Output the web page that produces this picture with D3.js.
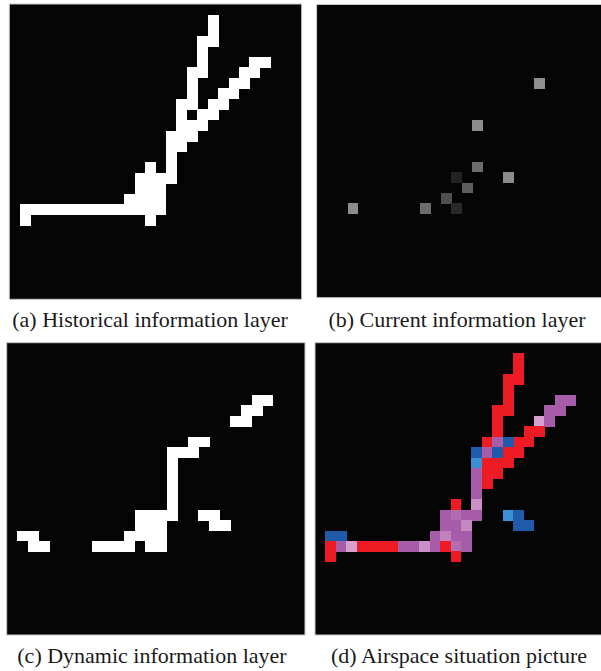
<!DOCTYPE html>
<html><head><meta charset="utf-8">
<script src="https://cdn.jsdelivr.net/npm/d3@7"></script>
<style>html,body{margin:0;padding:0;background:#fff}</style>
</head><body>
<svg id="chart" width="601" height="671"></svg>
<script>
// ---- data ----
const gridSize = 28;
// Historical layer: [row, [columns]]
const historicalRows = [
  [1, [19]], [2, [19]], [3, [18, 19]], [4, [18]], [5, [18, 23, 24]],
  [6, [17, 18, 22, 23]], [7, [17, 21, 22]], [8, [17, 20, 21]],
  [9, [16, 17, 19, 20]], [10, [16, 18, 19]], [11, [16, 17, 18]],
  [12, [15, 16, 17]], [13, [15, 16]], [14, [15]], [15, [13, 15]],
  [16, [12, 13, 14, 15]], [17, [12, 13, 14]], [18, [11, 12, 13, 14]],
  [19, [1, 2, 3, 4, 5, 6, 7, 8, 9, 10, 11, 12, 13, 14]], [20, [1, 13]]
];
// Dynamic layer: [row, [columns]]
const dynamicRows = [
  [5, [23, 24]], [6, [22, 23]], [7, [21, 22]], [9, [17, 18]],
  [10, [15, 16, 17]], [11, [15]], [12, [15]], [13, [15]], [14, [15]],
  [15, [15]], [16, [12, 13, 14, 15, 18, 19]], [17, [12, 13, 14, 19, 20]],
  [18, [1, 2, 11, 12, 13, 14]], [19, [2, 3, 8, 9, 10, 11, 13, 14]]
];
// Current layer: column, row, intensity
const currentCols      = [21, 15, 15, 13, 18, 14, 12, 3, 10, 13];
const currentRowsIdx   = [7, 11, 15, 16, 16, 17, 18, 19, 19, 19];
const currentIntensity = [0.55, 0.54, 0.41, 0.12, 0.54, 0.35, 0.29, 0.54, 0.41, 0.14];
const panelLabels = [
  "(a) Historical information layer",
  "(b) Current information layer",
  "(c) Dynamic information layer",
  "(d) Airspace situation picture"
];

// ---- helpers ----
const expand = rows => rows.flatMap(([r, cols]) => cols.map(c => ({col: c, row: r})));
const histCells = expand(historicalRows);
const dynCells = expand(dynamicRows);
const curCells = currentCols.map((c, i) => ({col: c, row: currentRowsIdx[i], v: currentIntensity[i]}));
const key = d => d.col + "," + d.row;
const histSet = new Set(histCells.map(key));
const dynSet = new Set(dynCells.map(key));
const curMap = new Map(curCells.map(d => [key(d), d.v]));

const allKeys = Array.from(new Set([...histSet, ...dynSet]));
const fusedCells = allKeys.map(k => {
  const [c, r] = k.split(",").map(Number);
  const h = histSet.has(k), dy = dynSet.has(k);
  return {col: c, row: r, type: h && dy ? "both" : (h ? "hist" : "dyn"), v: curMap.get(k) || 0};
});

const baseColor = {hist: "#ed1c24", both: "#a65ca8", dyn: "#1f5aab"};
const lightColor = {hist: "#f58a8e", both: "#d7a0cf", dyn: "#3b8fd4"};
const fusedColor = d => d3.interpolateRgb(baseColor[d.type], lightColor[d.type])(Math.min(1, d.v / 0.54));

// ---- layout ----
const panels = [
  {x: 9.3,   y: 4,     w: 292.4, h: 295.3},
  {x: 316.6, y: 4.5,   w: 290.4, h: 293.2},
  {x: 6.7,   y: 342.7, w: 298.3, h: 292.3},
  {x: 315,   y: 342.7, w: 292.0, h: 292.3}
];
const labelPos = [
  {x: 150, y: 327}, {x: 457, y: 327},
  {x: 152, y: 663}, {x: 459, y: 663}
];

const svg = d3.select("#chart");
svg.append("rect").attr("width", 601).attr("height", 671).attr("fill", "#fff");

function drawPanel(p, cells, colorFn) {
  const xs = d3.scaleBand().domain(d3.range(gridSize)).range([p.x, p.x + p.w]);
  const ys = d3.scaleBand().domain(d3.range(gridSize)).range([p.y, p.y + p.h]);
  const g = svg.append("g");
  g.append("rect").attr("x", p.x).attr("y", p.y).attr("width", p.w).attr("height", p.h)
    .attr("fill", "#050505").attr("stroke", "#c8c8c8").attr("stroke-width", 1);
  g.selectAll("rect.cell").data(cells).join("rect").attr("class", "cell")
    .attr("x", d => xs(d.col)).attr("y", d => ys(d.row))
    .attr("width", xs.bandwidth() + 0.4).attr("height", ys.bandwidth() + 0.4)
    .attr("fill", colorFn)
    .attr("shape-rendering", "crispEdges");
}

drawPanel(panels[0], histCells, () => "#ffffff");
const grayScale = d3.scaleLinear().domain([0, 1]).range(["#050505", "#ffffff"]);
drawPanel(panels[1], curCells, d => grayScale(d.v));
drawPanel(panels[2], dynCells, () => "#ffffff");
drawPanel(panels[3], fusedCells, fusedColor);

svg.selectAll("text.lbl").data(panelLabels).join("text").attr("class", "lbl")
  .attr("x", (d, i) => labelPos[i].x).attr("y", (d, i) => labelPos[i].y)
  .attr("text-anchor", "middle")
  .attr("font-family", "'Liberation Serif', 'Times New Roman', serif")
  .attr("font-size", 22).attr("fill", "#1a1a1a")
  .text(d => d);
</script>
</body></html>
